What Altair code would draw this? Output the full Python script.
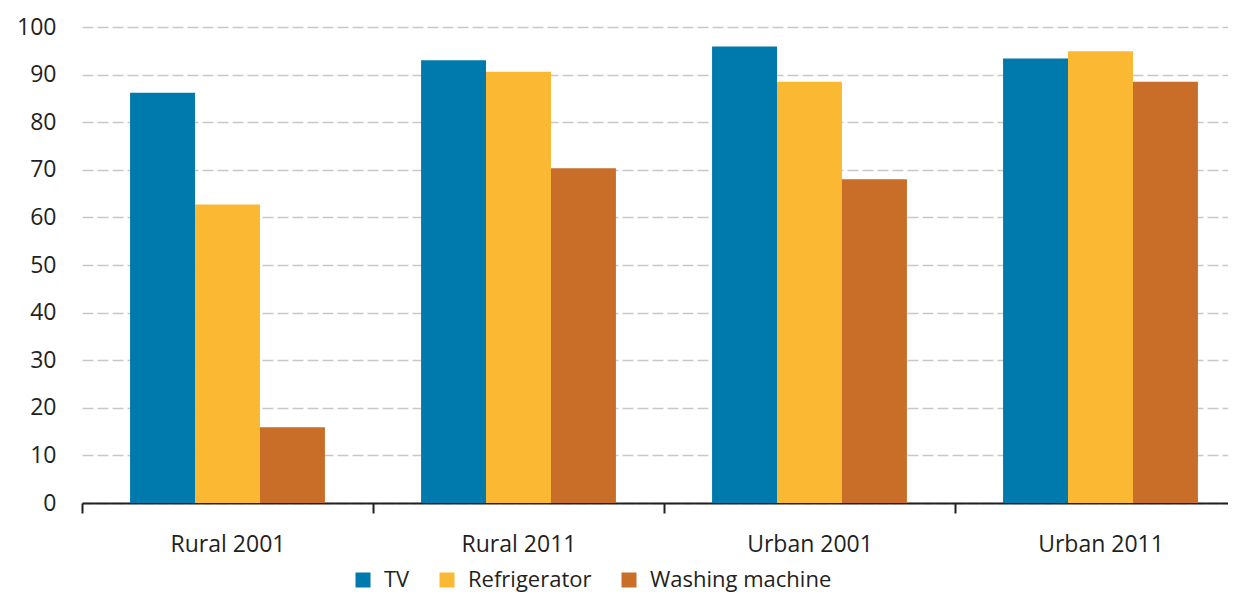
import altair as alt
import pandas as pd

groups = ["Rural 2001", "Rural 2011", "Urban 2001", "Urban 2011"]
items = ["TV", "Refrigerator", "Washing machine"]
tv = [86.2, 93.0, 95.9, 93.4]
fridge = [62.7, 90.6, 88.5, 94.9]
washer = [15.9, 70.3, 68.0, 88.5]
colors = ["#0079ac", "#fbb832", "#c96e28"]
y_ticks = [0, 10, 20, 30, 40, 50, 60, 70, 80, 90, 100]

rows = []
for i, g in enumerate(groups):
    for item, vals in zip(items, [tv, fridge, washer]):
        rows.append({"group": g, "item": item, "value": vals[i]})
df = pd.DataFrame(rows)

text_color = "#231f20"
fs = 23

chart = alt.Chart(df).mark_bar().encode(
    x=alt.X(
        "group:N",
        sort=groups,
        scale=alt.Scale(paddingInner=0, paddingOuter=0),
        axis=alt.Axis(
            title=None, labelAngle=0, grid=False, tickBand="extent",
            domain=True, domainColor=text_color, domainWidth=2,
            ticks=True, tickColor=text_color, tickWidth=2, tickSize=10,
            labelFontSize=fs, labelColor=text_color, labelPadding=20,
        ),
    ),
    xOffset=alt.XOffset("item:N", sort=items,
                        scale=alt.Scale(paddingOuter=0.74, paddingInner=0)),
    y=alt.Y(
        "value:Q",
        scale=alt.Scale(domain=[0, 100]),
        axis=alt.Axis(
            title=None, values=y_ticks, domain=False, ticks=False,
            grid=True, gridDash=[11, 4], gridColor="#c8c8c8", gridWidth=1.5,
            labelFontSize=fs, labelColor=text_color, labelPadding=26,
        ),
    ),
    color=alt.Color(
        "item:N", sort=items,
        scale=alt.Scale(domain=items, range=colors),
        legend=alt.Legend(
            orient="none", legendX=270, legendY=542, direction="horizontal",
            title=None, symbolType="square", symbolSize=225,
            symbolStrokeWidth=0, symbolOpacity=1, labelFontSize=22,
            labelLimit=400, labelColor=text_color, columnPadding=26,
            labelOffset=10, padding=0,
        ),
    ),
).properties(
    width=1164,
    height=476,
    padding={"left": 74, "top": 19, "right": -18, "bottom": 90},
    autosize=alt.AutoSizeParams(type="none"),
).configure(font="Open Sans").configure_view(stroke=None)

chart.save("out.html", embed_options={"renderer": "svg", "actions": False})
